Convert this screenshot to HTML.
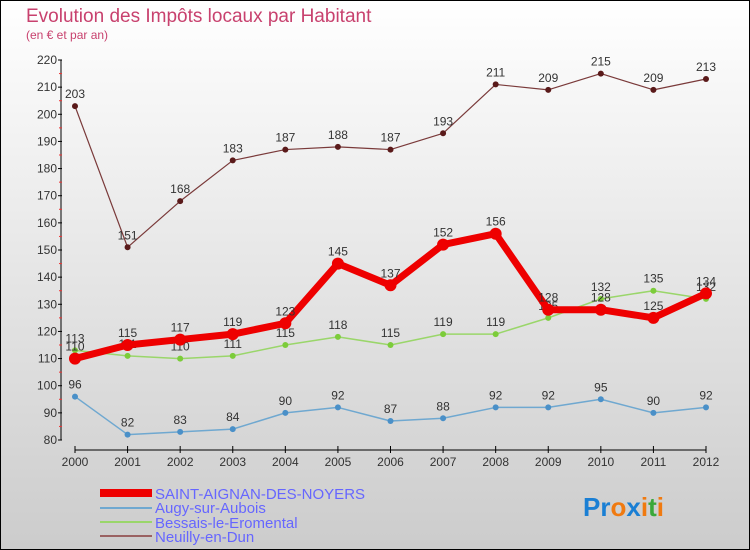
<!DOCTYPE html>
<html><head><meta charset="utf-8"><style>
body{margin:0;width:750px;height:550px;overflow:hidden;font-family:"Liberation Sans",sans-serif}
#c{position:absolute;left:0;top:0;width:748px;height:548px;border:1px solid #000;background:linear-gradient(#fff,#ccc)}
</style></head><body>
<div id="c">
<svg id="s" width="750" height="550" style="position:absolute;left:-1px;top:-1px">
<text x="26" y="22" font-size="19" fill="#c8416e">Evolution des Impôts locaux par Habitant</text>
<text x="26" y="39" font-size="12" fill="#c8416e">(en € et par an)</text>
<g id="axes"></g><g id="series"></g>
<g>
<rect x="100" y="489" width="52" height="8" fill="#e00"/>
<text x="155" y="499" font-size="15" fill="#66f">SAINT-AIGNAN-DES-NOYERS</text>
<rect x="100" y="507" width="52" height="2" fill="#6fa8d0"/>
<text x="155" y="513" font-size="15" fill="#66f">Augy-sur-Aubois</text>
<rect x="100" y="521" width="52" height="2" fill="#9ad66a"/>
<text x="155" y="528" font-size="15" fill="#66f">Bessais-le-Eromental</text>
<rect x="100" y="535" width="52" height="2" fill="#9a6262"/>
<text x="155" y="542" font-size="15" fill="#66f">Neuilly-en-Dun</text>
</g>
<text x="583" y="516" font-size="26" font-weight="bold"><tspan fill="#1a7fd4">Pr</tspan><tspan fill="#f07a10">o</tspan><tspan fill="#1a7fd4">x</tspan><tspan fill="#f07a10">i</tspan><tspan fill="#3aa83a">t</tspan><tspan fill="#f07a10">i</tspan></text>
</svg></div>
<script>
const years=[2000,2001,2002,2003,2004,2005,2006,2007,2008,2009,2010,2011,2012];
const yTicks=[80,90,100,110,120,130,140,150,160,170,180,190,200,210,220];
const saint=[110,115,117,119,123,145,137,152,156,128,128,125,134];
const augy=[96,82,83,84,90,92,87,88,92,92,95,90,92];
const bessais=[113,111,110,111,115,118,115,119,119,125,132,135,132];
const neuilly=[203,151,168,183,187,188,187,193,211,209,215,209,213];
const NS="http://www.w3.org/2000/svg";
const X=i=>75+i*(706-75)/(years.length-1);
const Y=v=>440-(v-80)*380/140;
function mk(t,a,p){const e=document.createElementNS(NS,t);for(const k in a)e.setAttribute(k,a[k]);p.appendChild(e);return e;}
const ax=document.getElementById('axes');
mk('line',{x1:61,y1:60,x2:61,y2:440,stroke:'#000'},ax);
mk('line',{x1:75,y1:450,x2:706,y2:450,stroke:'#000'},ax);
yTicks.forEach(v=>{
 mk('line',{x1:58,y1:Y(v),x2:62,y2:Y(v),stroke:'#000'},ax);
 if(v<220)mk('line',{x1:59,y1:Y(v+5),x2:62,y2:Y(v+5),stroke:'#e33'},ax);
 const t=mk('text',{x:57,y:Y(v)+4,'font-size':12,fill:'#333','text-anchor':'end'},ax);
 
 
 t.textContent=v;
});
years.forEach((y,i)=>{
 mk('line',{x1:X(i),y1:446,x2:X(i),y2:453,stroke:'#000'},ax);
 const t=mk('text',{x:X(i),y:466,'font-size':12,fill:'#333','text-anchor':'middle'},ax);
 
 
 t.textContent=y;
});
const sg=document.getElementById('series');
function series(name,data,color,w,r,dot){
 const g=mk('g',{},sg);
 
 
 mk('polyline',{points:data.map((v,i)=>X(i)+','+Y(v)).join(' '),fill:'none',stroke:color,'stroke-width':w,'stroke-linejoin':'round'},g);
 data.forEach((v,i)=>{
  const c=mk('circle',{cx:X(i),cy:Y(v),r:r,fill:dot},g);
  
  
  const t=mk('text',{x:X(i),y:Y(v)-8,'font-size':12,fill:'#333','text-anchor':'middle'},g);
  
  
  t.textContent=v;
 });
}
series('neuilly-line',neuilly,'#7a3a3a',1.2,3,'#5a1a1a');
series('bessais-line',bessais,'#9ad66a',1.5,3,'#7ccc3a');
series('augy-line',augy,'#6fa8d0',1.5,3,'#4a90c8');
series('saint-aignan-line',saint,'#e00',7,6,'#e00');
</script>
</body></html>
